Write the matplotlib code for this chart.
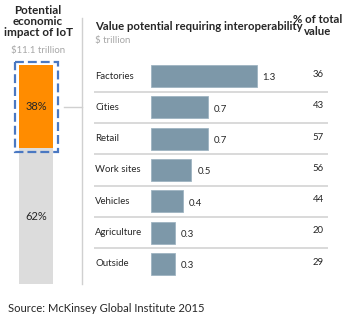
import matplotlib
matplotlib.use("Agg")
import matplotlib.pyplot as plt
from matplotlib.patches import Rectangle

plt.rcParams['font.family'] = ['Lato', 'DejaVu Sans']

# data
categories = ["Factories", "Cities", "Retail", "Work sites", "Vehicles", "Agriculture", "Outside"]
values = [1.3, 0.7, 0.7, 0.5, 0.4, 0.3, 0.3]
pct_of_total = [36, 43, 57, 56, 44, 20, 29]
impact_share = [38, 62]  # interoperability share vs rest, %
total_impact = "$11.1 trillion"

W, H = 351, 324
fig = plt.figure(figsize=(W / 100, H / 100), dpi=100)
fig.patch.set_facecolor("white")

def fbox(x0, y0, x1, y1):
    # pixel box (top-left origin) -> figure fraction rect
    return [x0 / W, 1 - y1 / H, (x1 - x0) / W, (y1 - y0) / H]

def ftext(x, y, s, **kw):
    fig.text(x / W, 1 - y / H, s, **kw)

dark = "#262626"
grey_txt = "#a6a6a6"

# ---- right panel: horizontal bars ----
px_per_unit = 81.7
bx0 = 150.5
left_px, right_px = 94, 328
ax = fig.add_axes(fbox(left_px, 60.4, right_px, 279.5))
ax.set_xlim(-(bx0 - left_px) / px_per_unit, (right_px - bx0) / px_per_unit)
n = len(categories)
ax.set_ylim(n - 0.5, -0.5)
ypos = list(range(n))
ax.barh(ypos, values, height=0.70, color="#7d98a9", edgecolor="#9fb4c2", linewidth=0.6)
for s in ax.spines.values():
    s.set_visible(False)
ax.set_xticks([])
ax.set_yticks([])

x_lab = ax.get_xlim()[0] + 1 / px_per_unit
x_pct = (324 - bx0) / px_per_unit
for i, (c, v, p) in enumerate(zip(categories, values, pct_of_total)):
    ax.text(x_lab, i, c, ha="left", va="center", fontsize=6.9, color=dark)
    ax.text(v + 6 / px_per_unit, i + 0.06, f"{v:.1f}", ha="left", va="center",
            fontsize=6.9, color=dark)
    ax.text(x_pct, i - 0.05, str(p), ha="right", va="center", fontsize=6.9, color=dark)
for i in range(n - 1):
    ax.axhline(i + 0.5, color="#d9d9d9", lw=1.4)

# ---- left panel: stacked share bar ----
ax2 = fig.add_axes(fbox(19, 65, 53, 284))
ax2.set_xlim(-0.5, 0.5)
ax2.set_ylim(100, 0)
ax2.bar([0], [impact_share[0]], width=1, bottom=0, color="#ff8c00")
ax2.bar([0], [impact_share[1]], width=1, bottom=impact_share[0], color="#dcdcdc")
ax2.axis("off")
ax2.text(0, impact_share[0] / 2, f"{impact_share[0]}%", ha="center", va="center",
         fontsize=8, color=dark)
ax2.text(0, impact_share[0] + impact_share[1] / 2, f"{impact_share[1]}%", ha="center",
         va="center", fontsize=8, color=dark)

# dashed outline around the orange segment
ux = 1 / 34
uy = 100 / 219
pad = 4.5
ax2.add_patch(Rectangle((-0.5 - pad * ux, -pad * uy * 0.7), 1 + 2 * pad * ux,
                        impact_share[0] + pad * uy * 1.6, fill=False,
                        edgecolor="#4a78c2", lw=1.6, ls=(0, (4, 1.8)), clip_on=False))

# connector and vertical divider
x_div = (81.5 - 19) / 34 - 0.5
ax2.plot([0.5 + 2.5 * pad * ux, x_div], [impact_share[0] / 2] * 2, color="#d0d0d0",
         lw=1.0, clip_on=False)
ax2.plot([x_div, x_div], [-(65 - 18) * uy, 100], color="#d0d0d0", lw=1.0, clip_on=False)

# ---- titles ----
ftext(38, 21.5, "Potential\neconomic\nimpact of IoT", ha="center", va="center",
      fontsize=8.4, fontweight="bold", color=dark, linespacing=1.05)
ftext(38, 50.5, total_impact, ha="center", va="center", fontsize=6.9, color=grey_txt)
ftext(95, 26, "Value potential requiring interoperability", ha="left", va="center",
      fontsize=8.2, fontweight="bold", color=dark)
ftext(95, 40, "$ trillion", ha="left", va="center", fontsize=6.9, color=grey_txt)
ftext(318, 25.5, "% of total\nvalue", ha="center", va="center", fontsize=8.2,
      fontweight="bold", color=dark, linespacing=1.15)
ftext(8, 309, "Source: McKinsey Global Institute 2015", ha="left", va="center",
      fontsize=8.1, color=dark)

fig.savefig("out.png", dpi=100)
